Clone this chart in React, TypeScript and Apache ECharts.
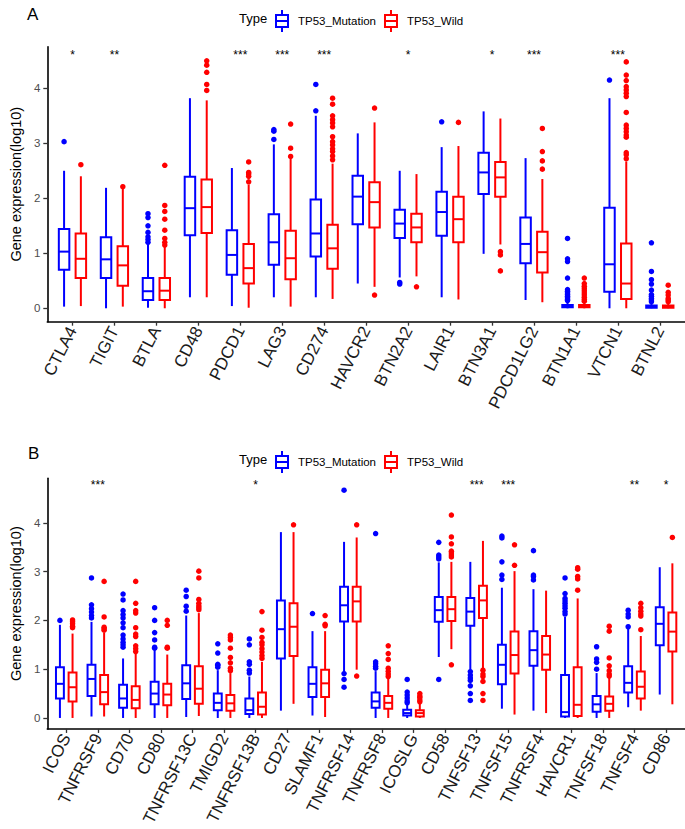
import React, { useEffect, useRef } from 'react';
import * as echarts from 'echarts';

const FONT = "'Liberation Sans', Arial, Helvetica, sans-serif";
const BLUE = '#0000FF';
const RED = '#FF0000';

// ---------- Panel A ----------
const catsA = ['CTLA4', 'TIGIT', 'BTLA', 'CD48', 'PDCD1', 'LAG3', 'CD274', 'HAVCR2', 'BTN2A2', 'LAIR1', 'BTN3A1', 'PDCD1LG2', 'BTN1A1', 'VTCN1', 'BTNL2'];
// [min, q1, median, q3, max]
const mutBoxA = [
  [0.03, 0.70, 1.03, 1.44, 2.50],
  [0.00, 0.55, 0.89, 1.29, 2.19],
  [0.01, 0.15, 0.31, 0.55, 1.17],
  [0.20, 1.33, 1.82, 2.39, 3.82],
  [0.04, 0.61, 0.97, 1.42, 2.55],
  [0.20, 0.79, 1.20, 1.71, 2.98],
  [0.20, 0.94, 1.36, 1.98, 3.50],
  [0.45, 1.53, 2.03, 2.41, 3.18],
  [0.56, 1.28, 1.54, 1.79, 2.50],
  [0.20, 1.32, 1.75, 2.12, 2.93],
  [0.99, 2.08, 2.47, 2.83, 3.58],
  [0.15, 0.82, 1.17, 1.65, 2.73],
  [0.00, 0.02, 0.04, 0.06, 0.12],
  [0.00, 0.30, 0.80, 1.83, 3.82],
  [0.00, 0.01, 0.03, 0.05, 0.10],
];
const wildBoxA = [
  [0.04, 0.55, 0.90, 1.36, 2.40],
  [0.03, 0.41, 0.78, 1.13, 2.18],
  [0.00, 0.15, 0.32, 0.55, 1.12],
  [0.20, 1.37, 1.84, 2.34, 3.78],
  [0.01, 0.45, 0.73, 1.17, 2.25],
  [0.03, 0.53, 0.91, 1.41, 2.73],
  [0.17, 0.72, 1.09, 1.52, 2.63],
  [0.39, 1.47, 1.93, 2.29, 3.38],
  [0.58, 1.20, 1.47, 1.72, 2.44],
  [0.16, 1.20, 1.62, 2.03, 2.95],
  [1.16, 2.03, 2.38, 2.66, 3.45],
  [0.11, 0.65, 1.02, 1.39, 2.35],
  [0.00, 0.02, 0.04, 0.06, 0.11],
  [0.00, 0.17, 0.45, 1.18, 2.67],
  [0.00, 0.01, 0.03, 0.05, 0.09],
];
const mutOutA = [
  [3.03],
  [],
  [1.20, 1.25, 1.30, 1.38, 1.50, 1.65, 1.72],
  [],
  [],
  [3.07, 3.22, 3.25],
  [3.59, 4.07],
  [],
  [0.44, 0.47],
  [3.39],
  [],
  [],
  [0.14, 0.16, 0.19, 0.22, 0.25, 0.28, 0.31, 0.34, 0.55, 0.85, 0.90, 1.27],
  [4.15],
  [0.12, 0.15, 0.18, 0.22, 0.25, 0.33, 0.44, 0.52, 0.67, 1.19],
];
const wildOutA = [
  [2.61],
  [2.21],
  [1.15, 1.20, 1.27, 1.42, 1.62, 1.76, 1.87, 2.60],
  [3.96, 4.07, 4.29, 4.42, 4.50],
  [2.30, 2.40, 2.44, 2.47, 2.66],
  [2.76, 2.91, 3.35],
  [2.70, 2.77, 2.85, 2.90, 2.97, 3.03, 3.12, 3.30, 3.37, 3.43, 3.50, 3.71, 3.82],
  [3.64, 0.24],
  [0.39],
  [3.38],
  [1.03, 0.97, 0.68],
  [2.53, 2.68, 2.85, 3.27],
  [0.13, 0.16, 0.20, 0.24, 0.28, 0.32, 0.36, 0.40, 0.45, 0.55],
  [2.72, 2.79, 2.83, 3.11, 3.15, 3.21, 3.27, 3.33, 3.56, 3.85, 3.91, 3.97, 4.03, 4.14, 4.24, 4.48],
  [0.12, 0.15, 0.18, 0.24, 0.29, 0.42],
];
const sigA = ['*', '**', '', '', '***', '***', '***', '', '*', '', '*', '***', '', '***', ''];

// ---------- Panel B ----------
const catsB = ['ICOS', 'TNFRSF9', 'CD70', 'CD80', 'TNFRSF13C', 'TMIGD2', 'TNFRSF13B', 'CD27', 'SLAMF1', 'TNFRSF14', 'TNFRSF8', 'ICOSLG', 'CD58', 'TNFSF13', 'TNFSF15', 'TNFRSF4', 'HAVCR1', 'TNFSF18', 'TNFSF4', 'CD86'];
const mutBoxB = [
  [0.00, 0.40, 0.70, 1.04, 1.91],
  [0.03, 0.45, 0.80, 1.09, 1.97],
  [0.00, 0.21, 0.40, 0.68, 1.22],
  [0.00, 0.28, 0.50, 0.74, 1.40],
  [0.02, 0.39, 0.71, 1.08, 2.10],
  [0.00, 0.16, 0.31, 0.50, 0.98],
  [0.00, 0.08, 0.16, 0.40, 0.85],
  [0.15, 1.22, 1.82, 2.41, 3.81],
  [0.05, 0.43, 0.70, 1.04, 1.78],
  [0.95, 1.98, 2.31, 2.69, 3.61],
  [0.00, 0.21, 0.34, 0.52, 0.96],
  [0.00, 0.05, 0.10, 0.17, 0.27],
  [1.25, 1.97, 2.21, 2.48, 3.19],
  [1.00, 1.89, 2.18, 2.46, 3.20],
  [0.19, 0.69, 1.09, 1.50, 2.67],
  [0.15, 1.07, 1.39, 1.78, 2.64],
  [0.00, 0.03, 0.12, 0.88, 2.07],
  [0.00, 0.13, 0.28, 0.45, 0.92],
  [0.22, 0.52, 0.72, 1.06, 1.85],
  [0.48, 1.49, 1.93, 2.27, 3.09],
];
const wildBoxB = [
  [0.00, 0.34, 0.63, 0.93, 1.73],
  [0.03, 0.28, 0.53, 0.88, 1.75],
  [0.00, 0.20, 0.37, 0.65, 1.33],
  [0.00, 0.26, 0.48, 0.70, 1.30],
  [0.04, 0.29, 0.60, 1.06, 2.15],
  [0.00, 0.15, 0.30, 0.47, 0.92],
  [0.00, 0.07, 0.23, 0.52, 1.15],
  [0.29, 1.27, 1.87, 2.35, 3.81],
  [0.02, 0.43, 0.71, 0.99, 1.78],
  [0.99, 1.98, 2.39, 2.69, 3.70],
  [0.00, 0.19, 0.31, 0.45, 0.82],
  [0.00, 0.03, 0.10, 0.16, 0.30],
  [1.41, 1.99, 2.23, 2.48, 3.20],
  [1.02, 2.05, 2.41, 2.71, 3.63],
  [0.07, 0.91, 1.29, 1.77, 3.01],
  [0.10, 0.99, 1.30, 1.68, 2.61],
  [0.00, 0.04, 0.27, 1.04, 2.45],
  [0.00, 0.15, 0.29, 0.44, 0.85],
  [0.15, 0.40, 0.64, 0.95, 1.68],
  [0.28, 1.36, 1.77, 2.16, 3.17],
];
const mutOutB = [
  [2.00],
  [2.05, 2.10, 2.17, 2.24, 2.32, 2.87],
  [1.45, 1.50, 1.55, 1.62, 1.70, 1.85, 1.95, 2.05, 2.12, 2.20, 2.42, 2.54],
  [1.43, 1.45, 1.60, 1.75, 2.00, 2.26],
  [2.19, 2.29, 2.49, 2.62],
  [1.04, 1.08, 1.10, 1.33, 1.52],
  [0.92, 0.98, 1.10, 1.15, 1.50, 1.62],
  [],
  [2.14],
  [4.67, 0.91, 0.79, 0.63],
  [1.02, 1.06, 1.11, 1.15, 3.78],
  [0.31, 0.35, 0.41, 0.47, 0.53, 0.79],
  [3.26, 3.30, 3.34, 3.60, 0.79],
  [0.95, 0.88, 0.82, 0.77, 0.66, 0.50, 0.36],
  [2.84, 2.93, 3.20, 3.69, 3.73],
  [2.83, 2.90, 2.93, 3.43],
  [2.13, 2.18, 2.25, 2.30, 2.35, 2.40, 2.45, 2.55, 2.87],
  [1.00, 1.14, 1.21, 1.46],
  [1.87, 2.07, 2.13, 2.21],
  [],
];
const wildOutB = [
  [1.85, 1.88, 1.93, 1.97, 2.01],
  [1.80, 1.83, 1.86, 2.07, 2.80],
  [1.36, 1.42, 1.48, 1.67, 1.72, 1.85, 2.15, 2.20, 2.35, 2.80],
  [1.43, 1.45, 1.90, 2.00],
  [2.22, 2.26, 2.30, 2.35, 2.43, 2.87, 3.01],
  [0.97, 1.02, 1.13, 1.24, 1.43, 1.60, 1.65, 1.70],
  [1.22, 1.28, 1.35, 1.42, 1.50, 1.55, 1.65, 1.80, 2.18],
  [3.96],
  [1.89, 1.92, 2.10],
  [3.96, 0.86],
  [0.85, 0.90, 0.96, 1.02, 1.20, 1.32, 1.48],
  [0.33, 0.37, 0.42, 0.45, 0.50],
  [3.30, 3.34, 3.38, 3.42, 3.57, 3.71, 4.16, 1.09],
  [0.98, 0.90, 0.85, 0.75, 0.50, 0.36],
  [3.13, 3.55],
  [],
  [2.62, 2.85, 2.90, 3.05, 3.08],
  [0.86, 0.90, 0.97, 1.07, 1.23, 1.78, 1.88],
  [1.81, 2.09, 2.13, 2.19, 2.26, 2.35],
  [3.70],
];
const sigB = ['', '***', '', '', '', '', '*', '', '', '', '', '', '', '***', '***', '', '', '', '**', '*'];

const yTicks = [0, 1, 2, 3, 4];
const groups = ['TP53_Mutation', 'TP53_Wild'];

const DODGE = 0.2;
const HALF_BOX = 0.125;
const LEGEND_ICON = 'path://M6,0V5M0,5H12V17H0ZM0,11H12M6,17V22';

function boxRenderer(side: number, color: string) {
  return (_params: any, api: any) => {
    const x = api.value(0) + side * DODGE;
    const pMin = api.coord([x, api.value(1)]);
    const pQ1 = api.coord([x - HALF_BOX, api.value(2)]);
    const pMed = api.coord([x, api.value(3)]);
    const pQ3 = api.coord([x + HALF_BOX, api.value(4)]);
    const pMax = api.coord([x, api.value(5)]);
    const style = { stroke: color, lineWidth: 2, fill: 'none' };
    return {
      type: 'group',
      children: [
        { type: 'line', shape: { x1: pMed[0], y1: pMax[1], x2: pMed[0], y2: pQ3[1] }, style },
        { type: 'line', shape: { x1: pMed[0], y1: pQ1[1], x2: pMed[0], y2: pMin[1] }, style },
        {
          type: 'rect',
          shape: { x: pQ1[0], y: pQ3[1], width: pQ3[0] - pQ1[0], height: pQ1[1] - pQ3[1] },
          style: { stroke: color, lineWidth: 2, fill: '#ffffff' },
        },
        { type: 'line', shape: { x1: pQ1[0], y1: pMed[1], x2: pQ3[0], y2: pMed[1] }, style },
      ],
    };
  };
}

function buildPanel(
  idx: number,
  cats: string[],
  mutBox: number[][],
  wildBox: number[][],
  mutOut: number[][],
  wildOut: number[][],
  sig: string[],
  starY: number,
) {
  const series: any[] = [];
  const boxes = [mutBox, wildBox];
  const outs = [mutOut, wildOut];
  const colors = [BLUE, RED];
  [0, 1].forEach((g) => {
    const side = g === 0 ? -1 : 1;
    series.push({
      type: 'custom',
      name: groups[g],
      xAxisIndex: idx,
      yAxisIndex: idx,
      itemStyle: { color: colors[g], borderColor: colors[g] },
      renderItem: boxRenderer(side, colors[g]),
      encode: { x: 0, y: [1, 2, 3, 4, 5] },
      data: boxes[g].map((b, i) => [i, ...b]),
      z: 2,
    });
  });
  [0, 1].forEach((g) => {
    const side = g === 0 ? -1 : 1;
    series.push({
      type: 'scatter',
      name: groups[g],
      xAxisIndex: idx,
      yAxisIndex: idx,
      symbol: 'circle',
      symbolSize: 5.5,
      itemStyle: { color: colors[g], opacity: 1 },
      data: outs[g].flatMap((arr, i) => arr.map((v) => [i + side * DODGE, v])),
      z: 3,
    });
  });
  const stars = sig.map((s, i) => ({ s, i })).filter((d) => d.s);
  series.push({
    type: 'custom',
    name: 'sig' + idx,
    xAxisIndex: idx,
    yAxisIndex: idx,
    data: stars.map((d) => [d.i, starY]),
    renderItem: (params: any, api: any) => {
      const p = api.coord([api.value(0), api.value(1)]);
      return {
        type: 'text',
        x: p[0],
        y: p[1],
        style: {
          text: stars[params.dataIndex].s,
          fill: '#000',
          fontSize: 12,
          fontFamily: FONT,
          align: 'center',
          verticalAlign: 'middle',
        },
      };
    },
    z: 4,
  });
  return series;
}

function xAxisFor(idx: number, cats: string[]) {
  const ticks = cats.map((_, i) => i);
  return {
    type: 'value',
    gridIndex: idx,
    min: -0.6,
    max: cats.length - 1 + 0.6,
    axisLine: { show: true, onZero: false, lineStyle: { color: '#000', width: 1.6 } },
    axisTick: { show: true, customValues: ticks, length: 4, lineStyle: { color: '#333', width: 1.3 } },
    axisLabel: {
      show: true,
      customValues: ticks,
      formatter: (v: number) => cats[Math.round(v)] ?? '',
      rotate: 63,
      margin: 6,
      fontSize: 17,
      color: '#1a1a1a',
      fontFamily: FONT,
      hideOverlap: false,
    },
    splitLine: { show: false },
  };
}

function yAxisFor(idx: number, min: number, max: number) {
  return {
    type: 'value',
    gridIndex: idx,
    min,
    max,
    name: 'Gene expression(log10)',
    nameLocation: 'middle',
    nameGap: 18,
    nameTextStyle: { fontSize: 14.5, color: '#000', fontFamily: FONT },
    axisLine: { show: true, onZero: false, lineStyle: { color: '#000', width: 1.6 } },
    axisTick: { show: true, customValues: yTicks, length: 4, lineStyle: { color: '#333', width: 1.3 } },
    axisLabel: { show: true, customValues: yTicks, fontSize: 11.5, color: '#4d4d4d', margin: 7, fontFamily: FONT },
    splitLine: { show: false },
  };
}

function legendFor(top: number) {
  return {
    top,
    left: 275,
    padding: 0,
    orient: 'horizontal',
    itemWidth: 22,
    itemHeight: 22,
    itemGap: 8,
    icon: LEGEND_ICON,
    selectedMode: false,
    textStyle: { fontSize: 11.5, color: '#000', fontFamily: FONT },
    data: [
      { name: groups[0], itemStyle: { color: '#ffffff', borderColor: BLUE, borderWidth: 2 } },
      { name: groups[1], itemStyle: { color: '#ffffff', borderColor: RED, borderWidth: 2 } },
    ],
  };
}

export default function App() {
  const ref = useRef<HTMLDivElement>(null);
  useEffect(() => {
    if (!ref.current) return;
    const chart = echarts.init(ref.current, null, { renderer: 'svg' });
    const option: any = {
      animation: false,
      backgroundColor: '#ffffff',
      textStyle: { fontFamily: FONT },
      grid: [
        { left: 33, right: 0, top: 46.7, height: 275, containLabel: false },
        { left: 33, right: 0, top: 478.3, height: 267.7, containLabel: false },
      ],
      xAxis: [xAxisFor(0, catsA), xAxisFor(1, catsB)],
      yAxis: [yAxisFor(0, -0.244, 4.756), yAxisFor(1, -0.225, 4.913)],
      legend: [legendFor(9), legendFor(450)],
      graphic: [
        { type: 'text', left: 27, top: 6, style: { text: 'A', fontSize: 17, fill: '#000', fontFamily: FONT } },
        { type: 'text', left: 28, top: 445, style: { text: 'B', fontSize: 17, fill: '#000', fontFamily: FONT } },
        { type: 'text', left: 239, top: 12, style: { text: 'Type', fontSize: 13, fill: '#000', fontFamily: FONT } },
        { type: 'text', left: 239, top: 453, style: { text: 'Type', fontSize: 13, fill: '#000', fontFamily: FONT } },
      ],
      series: [
        ...buildPanel(0, catsA, mutBoxA, wildBoxA, mutOutA, wildOutA, sigA, 4.61),
        ...buildPanel(1, catsB, mutBoxB, wildBoxB, mutOutB, wildOutB, sigB, 4.77),
      ],
    };
    chart.setOption(option);
    return () => chart.dispose();
  }, []);
  return (
    <div
      ref={ref}
      style={{ position: 'fixed', left: 0, top: 0, width: 685, height: 829, background: '#fff' }}
    />
  );
}
